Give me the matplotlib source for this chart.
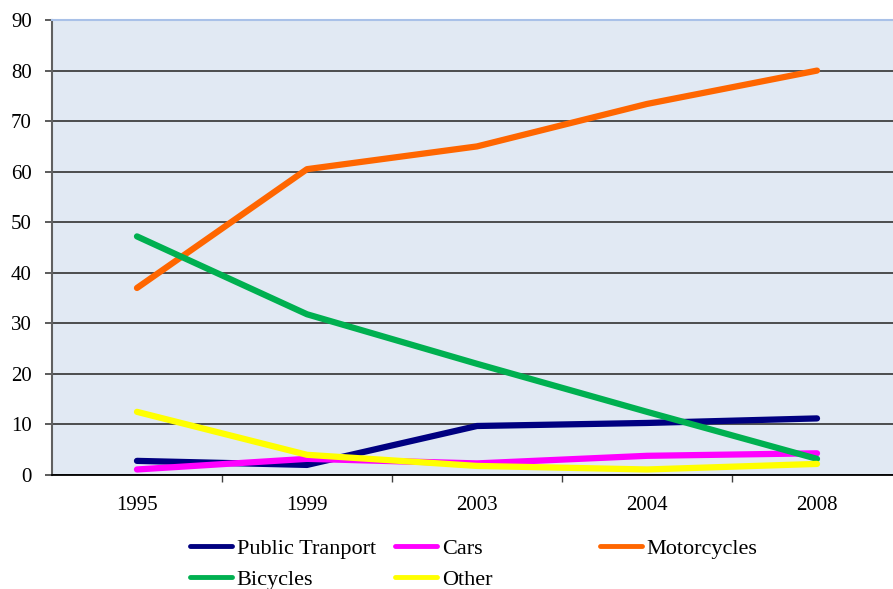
import matplotlib.pyplot as plt
import numpy as np

years = ['1995', '1999', '2003', '2004', '2008']
public_transport = [2.8, 2.0, 9.7, 10.3, 11.2]
cars = [1.1, 3.2, 2.3, 3.8, 4.3]
motorcycles = [37, 60.5, 65, 73.4, 80]
bicycles = [47.2, 31.8, 22, 12.5, 3.2]
other = [12.5, 4.0, 1.8, 1.1, 2.2]

plt.rcParams['font.family'] = ['Liberation Serif', 'DejaVu Serif']

fig = plt.figure(figsize=(8.93, 5.89), dpi=100)
ax = fig.add_axes([0.0582, 0.1935, 0.9519, 0.7725])
ax.set_facecolor('#E1E9F3')

x = np.arange(len(years))
lw = 4.5
l_pt, = ax.plot(x, public_transport, color='#000080', lw=lw, solid_capstyle='round', label='Public Tranport')
l_cars, = ax.plot(x, cars, color='#FF00FF', lw=lw, solid_capstyle='round', label='Cars')
l_moto, = ax.plot(x, motorcycles, color='#FF6600', lw=lw, solid_capstyle='round', label='Motorcycles')
l_bic, = ax.plot(x, bicycles, color='#00B050', lw=lw, solid_capstyle='round', label='Bicycles')
l_oth, = ax.plot(x, other, color='#FFFF00', lw=lw, solid_capstyle='round', label='Other')

ax.set_xlim(-0.5, len(years) - 0.5)
ax.set_ylim(0, 90)
ax.set_yticks(range(0, 91, 10))
ax.set_xticks(x)
ax.set_xticklabels(years)
ax.set_xticks(np.arange(0.5, len(years) - 1, 1), minor=True)

ax.yaxis.grid(True, color='#404040', lw=1.3)
ax.set_axisbelow(True)

ax.spines['right'].set_visible(False)
ax.spines['top'].set_color('#A9C1E8')
ax.spines['top'].set_linewidth(1.5)
ax.spines['left'].set_color('#606060')
ax.spines['left'].set_linewidth(1.5)
ax.spines['bottom'].set_color('#000000')
ax.spines['bottom'].set_linewidth(1.3)

ax.tick_params(axis='y', direction='out', length=5, width=1.2, color='#404040', labelsize=15, pad=9.5)
ax.tick_params(axis='x', which='major', length=0, labelsize=15, pad=15)
ax.tick_params(axis='x', which='minor', direction='out', length=5, width=1, color='#404040')

# legend columns at fixed positions like the original
cols = [[l_pt, l_bic], [l_cars, l_oth], [l_moto]]
xs = [190, 395, 600]
for hs, xp in zip(cols, xs):
    leg = fig.legend(handles=hs, labels=[h.get_label() for h in hs], ncol=1,
                     loc='upper left', bbox_to_anchor=(xp / 893, 1 - 538 / 589),
                     frameon=False, fontsize=16, handlelength=1.9, handletextpad=0.2,
                     labelspacing=0.5, borderpad=0, borderaxespad=0)
    for ln in leg.get_lines():
        ln.set_linewidth(3.5)

fig.savefig('out.png', dpi=100)
